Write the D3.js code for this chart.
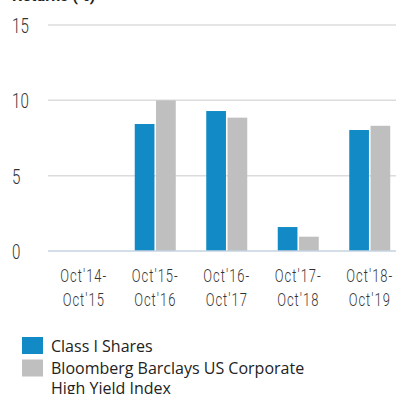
<!DOCTYPE html>
<html>
<head>
<meta charset="utf-8">
<script src="https://cdn.jsdelivr.net/npm/d3@7"></script>
<style>
  html, body { margin: 0; padding: 0; background: #fff; }
  svg { display: block; }
</style>
</head>
<body>
<svg id="chart" width="396" height="394"></svg>
<script>
// Annual returns by fiscal year
const periods = ["Oct'14-\nOct'15", "Oct'15-\nOct'16", "Oct'16-\nOct'17", "Oct'17-\nOct'18", "Oct'18-\nOct'19"];
const classIShares = [null, 8.43, 9.29, 1.59, 8.03];
const benchmark = [null, 10.0, 8.85, 0.95, 8.31];
const seriesNames = ["Class I Shares", "Bloomberg Barclays US Corporate\nHigh Yield Index"];
const yTicks = [0, 5, 10, 15];

const colors = ["#118ac6", "#bfbfbf"];
const svg = d3.select("#chart");

const y = d3.scaleLinear().domain([0, 15]).range([251, 25]);
const x0 = d3.scaleBand().domain(periods).range([48, 405.5]).paddingInner(0).paddingOuter(0);
const x1 = d3.scaleBand().domain([0, 1]).range([x0.bandwidth() / 2 - 20.5, x0.bandwidth() / 2 + 20.5]).paddingInner(0.075);

// title (runs off the top edge)
svg.append("text")
  .attr("x", 12).attr("y", 0.5)
  .attr("font-family", "Roboto, sans-serif")
  .attr("font-weight", 700)
  .attr("font-size", 16)
  .attr("fill", "#222")
  .text("Returns (%)");

// gridlines
svg.append("g").selectAll("line")
  .data(yTicks.filter(d => d > 0))
  .join("line")
  .attr("x1", 48).attr("x2", 396)
  .attr("y1", d => y(d)).attr("y2", d => y(d))
  .attr("stroke", "#dcdcdc")
  .attr("stroke-width", 1.5);

// y tick labels
const yAxis = svg.append("g")
  .attr("transform", "translate(12,0)")
  .call(d3.axisLeft(y).tickValues(yTicks).tickSize(0).tickPadding(0));
yAxis.select(".domain").remove();
yAxis.selectAll("text")
  .attr("text-anchor", "start")
  .attr("font-family", "Roboto, sans-serif")
  .attr("font-weight", 300)
  .attr("font-size", 21)
  .attr("fill", "#333")
  .attr("dy", "0.36em")
  .attr("transform", "scale(0.72,1)");

// bars
const groups = svg.append("g").selectAll("g")
  .data(periods.map((p, i) => ({ p, vals: [classIShares[i], benchmark[i]] })))
  .join("g")
  .attr("transform", d => `translate(${x0(d.p)},0)`);

groups.selectAll("rect")
  .data(d => d.vals.map((v, k) => ({ v, k })).filter(e => e.v !== null))
  .join("rect")
  .attr("x", e => x1(e.k))
  .attr("width", x1.bandwidth())
  .attr("y", e => y(e.v))
  .attr("height", e => y(0) - y(e.v))
  .attr("fill", e => colors[e.k]);

// baseline
svg.append("line")
  .attr("x1", 48).attr("x2", 396)
  .attr("y1", y(0)).attr("y2", y(0))
  .attr("stroke", "#c5d3e0")
  .attr("stroke-width", 1.5);

// category labels
const xLab = svg.append("g").selectAll("text")
  .data(periods)
  .join("text")
  .attr("transform", d => `translate(${x0(d) + x0.bandwidth() / 2},0) scale(0.72,1)`)
  .attr("font-family", "Roboto, sans-serif")
  .attr("font-weight", 300)
  .attr("font-size", 18)
  .attr("letter-spacing", 1.4)
  .attr("fill", "#333")
  .attr("text-anchor", "middle");
xLab.selectAll("tspan")
  .data(d => d.split("\n"))
  .join("tspan")
  .attr("x", 0)
  .attr("y", (d, i) => 282 + i * 24)
  .text(d => d);

// legend
const legend = svg.append("g").selectAll("g")
  .data(seriesNames)
  .join("g")
  .attr("transform", (d, i) => `translate(22,${337 + i * 22.5})`);
legend.append("rect")
  .attr("width", 21).attr("height", 17)
  .attr("fill", (d, i) => colors[i]);
const lt = legend.append("text")
  .attr("font-family", "'Open Sans', sans-serif")
  .attr("font-size", 16)
  .attr("fill", "#222");
lt.selectAll("tspan")
  .data(d => d.split("\n"))
  .join("tspan")
  .attr("x", 29)
  .attr("y", (d, i) => 14.5 + i * 20)
  .text(d => d);
</script>
</body>
</html>
